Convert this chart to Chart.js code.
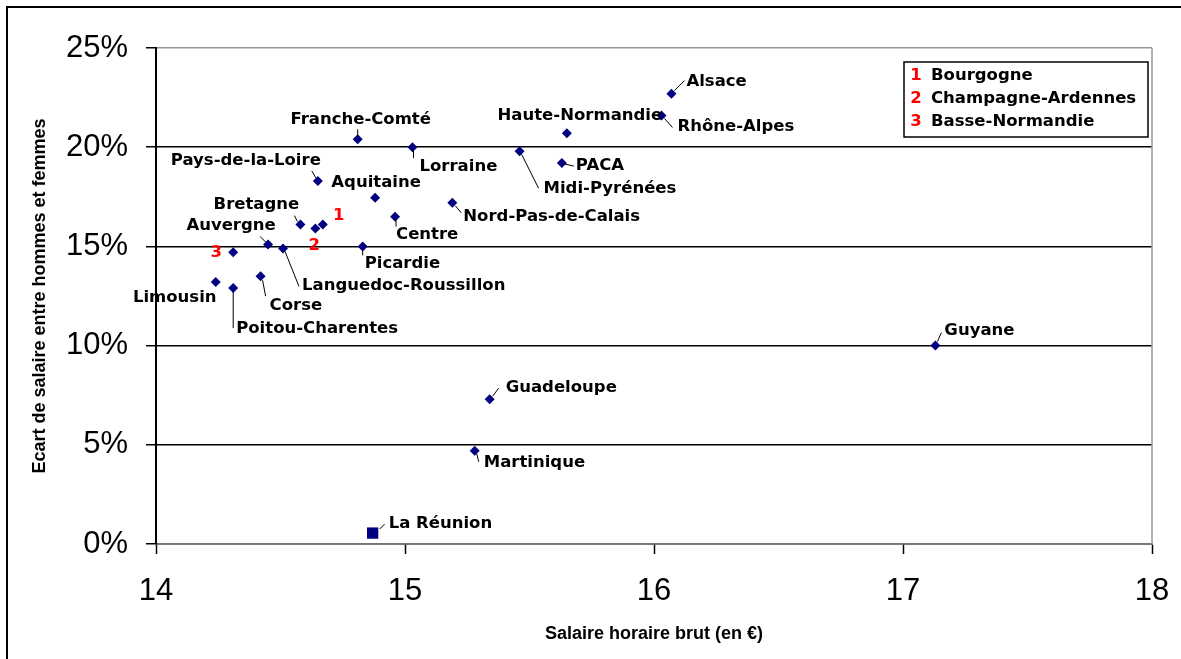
<!DOCTYPE html>
<html>
<head>
<meta charset="utf-8">
<script src="https://cdn.jsdelivr.net/npm/chart.js@4.4.1/dist/chart.umd.min.js"></script>
<style>
  html, body { margin:0; padding:0; background:#fff; }
  canvas { display:block; }
</style>
</head>
<body>
<canvas id="graf" width="1181" height="659"></canvas>
<script>
// Données
var regions = ['Alsace','Rhône-Alpes','Haute-Normandie','Franche-Comté','Lorraine','Midi-Pyrénées','PACA',
  'Pays-de-la-Loire','Aquitaine','Nord-Pas-de-Calais','Centre','Bourgogne','Champagne-Ardennes','Bretagne',
  'Auvergne','Languedoc-Roussillon','Basse-Normandie','Picardie','Limousin','Corse','Poitou-Charentes',
  'Guyane','Guadeloupe','Martinique','La Réunion'];
var salaire = [16.07,16.03,15.65,14.81,15.03,15.46,15.63,
  14.65,14.88,15.19,14.96,14.67,14.64,14.58,
  14.45,14.51,14.31,14.83,14.24,14.42,14.31,
  17.13,15.34,15.28,14.87];
var ecart = [22.7,21.6,20.7,20.4,20.0,19.8,19.2,
  18.3,17.45,17.2,16.5,16.1,15.9,16.1,
  15.1,14.9,14.7,15.0,13.2,13.5,12.9,
  10.0,7.3,4.7,0.55];
var xTicks = [14,15,16,17,18];
var yTicks = [0,5,10,15,20,25];
var legendNums = ['1','2','3'];
var legendNames = ['Bourgogne','Champagne-Ardennes','Basse-Normandie'];

// placement des étiquettes : [dx, dy, align, leader x1,y1,x2,y2]
var etiq = {
  'Alsace': [15,-12,'left',3,-3,13,-13],
  'Rhône-Alpes': [16,11,'left',3,3,11,12],
  'Haute-Normandie': [13,-18,'center'],
  'Franche-Comté': [3,-20,'center',0,-3,0,-10],
  'Lorraine': [7,20,'left',1,3,1,11],
  'Midi-Pyrénées': [24,38,'left',2,3,19,37],
  'PACA': [14,3,'left',3,1,12,3],
  'Pays-de-la-Loire': [3,-20,'right',-2,-3,-6,-10],
  'Aquitaine': [1,-15,'center'],
  'Nord-Pas-de-Calais': [11,14,'left',3,3,9,10],
  'Centre': [1,18,'left',1,3,1,10],
  'Bretagne': [-44,-20,'center',-3,-3,-6,-9],
  'Auvergne': [-37,-19,'center',-2,-2,-8,-8],
  'Languedoc-Roussillon': [19,37,'left',2,3,16,38],
  'Picardie': [2,17,'left',0,3,0,9],
  'Limousin': [-41,16,'center'],
  'Corse': [9,30,'left',2,4,5,20],
  'Poitou-Charentes': [3,41,'left',0,4,0,40],
  'Guyane': [9,-15,'left',2,-4,6,-13],
  'Guadeloupe': [16,-11,'left',3,-3,9,-11],
  'Martinique': [9,12,'left',2,3,4,11],
  'La Réunion': [16,-9,'left',7,-4,12,-9],
  'Bourgogne': [16,-9,'center'],
  'Champagne-Ardennes': [-1,17,'center'],
  'Basse-Normandie': [-17,0,'center']
};

var fontLab = 'bold 16.5px "DejaVu Sans", sans-serif';

var pts = [];
for (var i = 0; i < regions.length; i++) pts.push({x: salaire[i], y: ecart[i]});

var cadre = {
  id: 'cadre',
  beforeDraw: function(chart) {
    var c = chart.ctx;
    c.save();
    c.fillStyle = '#fff';
    c.fillRect(0, 0, chart.width, chart.height);
    c.strokeStyle = '#000';
    c.lineWidth = 2;
    c.beginPath();
    c.moveTo(7, chart.height); c.lineTo(7, 7); c.lineTo(chart.width, 7);
    c.stroke();
    c.restore();
  },
  beforeDatasetsDraw: function(chart) {
    var a = chart.chartArea, c = chart.ctx;
    c.save();
    c.strokeStyle = '#999';
    c.lineWidth = 1.5;
    c.beginPath();
    c.moveTo(a.right, a.bottom); c.lineTo(a.right, a.top);
    c.stroke();
    c.restore();
  },
  afterDatasetsDraw: function(chart) {
    var c = chart.ctx, meta = chart.getDatasetMeta(0), a = chart.chartArea;
    c.save();
    c.font = fontLab;
    c.textBaseline = 'middle';
    for (var i = 0; i < regions.length; i++) {
      var p = meta.data[i], e = etiq[regions[i]];
      if (!e) continue;
      if (e.length > 3) {
        c.strokeStyle = '#000'; c.lineWidth = 1;
        c.beginPath();
        c.moveTo(p.x + e[3], p.y + e[4]); c.lineTo(p.x + e[5], p.y + e[6]);
        c.stroke();
      }
      var k = legendNames.indexOf(regions[i]);
      c.textAlign = e[2];
      c.fillStyle = k >= 0 ? '#ff0000' : '#000';
      c.fillText(k >= 0 ? legendNums[k] : regions[i], p.x + e[0], p.y + e[1]);
    }
    // légende
    var bx = a.right - 248, by = a.top + 14, bw = 244, bh = 75;
    c.fillStyle = '#fff';
    c.fillRect(bx, by, bw, bh);
    c.strokeStyle = '#000'; c.lineWidth = 1.5;
    c.strokeRect(bx, by, bw, bh);
    for (var j = 0; j < legendNames.length; j++) {
      var ty = by + 14 + j * 23;
      c.textAlign = 'center'; c.fillStyle = '#ff0000';
      c.fillText(legendNums[j], bx + 12, ty);
      c.textAlign = 'left'; c.fillStyle = '#000';
      c.fillText(legendNames[j], bx + 27, ty);
    }
    c.restore();
  }
};

var graf = new Chart(document.getElementById('graf'), {
  type: 'scatter',
  data: {
    datasets: [{
      label: 'Régions',
      data: pts,
      backgroundColor: '#000080',
      borderColor: '#000080',
      borderWidth: 0,
      pointStyle: function(ctx) { return regions[ctx.dataIndex] === 'La Réunion' ? 'rect' : 'rectRot'; },
      pointRadius: function(ctx) { return regions[ctx.dataIndex] === 'La Réunion' ? 8 : 5; }
    }]
  },
  options: {
    responsive: false,
    animation: false,
    layout: { padding: { top: 48, right: 29, left: 0, bottom: 0 } },
    plugins: { legend: { display: false }, tooltip: { enabled: false } },
    scales: {
      x: {
        type: 'linear', min: 14, max: 18,
        afterBuildTicks: function(s) { s.ticks = xTicks.map(function(v) { return {value: v}; }); },
        afterFit: function(s) { s.height = 115; s.paddingLeft = 0; s.paddingRight = 0; },
        border: { color: '#777', width: 1.5 },
        grid: { drawOnChartArea: false, tickLength: 10, tickColor: '#000', tickWidth: 1.5 },
        ticks: { color: '#000', padding: 19, font: { family: '"Liberation Sans", Arial', size: 31 } },
        title: { display: true, text: 'Salaire horaire brut (en €)', color: '#000',
          padding: { top: 0, bottom: 14 },
          font: { family: '"Liberation Sans", Arial', size: 18, weight: 'bold' } }
      },
      y: {
        type: 'linear', min: 0, max: 25,
        afterBuildTicks: function(s) { s.ticks = yTicks.map(function(v) { return {value: v}; }); },
        afterFit: function(s) { s.width = 156; s.paddingTop = 0; s.paddingBottom = 0; },
        border: { color: '#000', width: 2 },
        grid: {
          color: function(ctx) { return ctx.tick && ctx.tick.value === 25 ? '#999' : '#000'; },
          lineWidth: 1.5, tickLength: 10, tickColor: '#000', tickWidth: 1.5
        },
        ticks: { color: '#000', padding: 18, font: { family: '"Liberation Sans", Arial', size: 31 },
          callback: function(v) { return v + '%'; } },
        title: { display: true, text: 'Ecart de salaire entre hommes et femmes', color: '#000',
          padding: { top: 29, bottom: 0 },
          font: { family: '"Liberation Sans", Arial', size: 18, weight: 'bold' } }
      }
    }
  },
  plugins: [cadre]
});
</script>
</body>
</html>
